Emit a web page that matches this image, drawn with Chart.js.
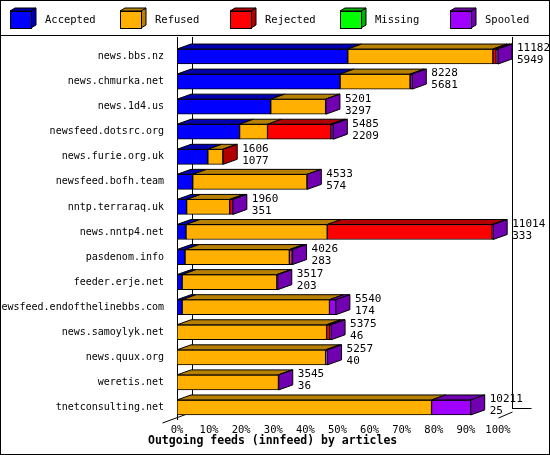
<!DOCTYPE html>
<html><head><meta charset="utf-8">
<script src="https://cdn.jsdelivr.net/npm/chart.js@4/dist/chart.umd.min.js"></script>
<style>html,body{margin:0;padding:0;background:#fff}#w{width:550px;height:455px;position:relative}</style>
</head><body><div id="w"><canvas id="c"></canvas></div>
<script>
const categories = ["news.bbs.nz","news.chmurka.net","news.1d4.us","newsfeed.dotsrc.org","news.furie.org.uk","newsfeed.bofh.team","nntp.terraraq.uk","news.nntp4.net","pasdenom.info","feeder.erje.net","newsfeed.endofthelinebbs.com","news.samoylyk.net","news.quux.org","weretis.net","tnetconsulting.net"];
const accepted = [53.2,50.8,29.2,19.5,9.6,4.9,3.0,2.8,2.5,1.6,1.6,0,0,0,0];
const refused  = [45.2,21.8,17.1,8.7,4.7,35.6,13.4,44.0,32.5,29.5,45.9,46.6,46.3,31.6,79.3];
const rejected = [1.0,0,0,19.7,0.1,0,0.9,51.4,0.6,0,0,1.0,0,0,0];
const missing  = [0,0,0,0,0,0,0,0,0,0,0,0,0,0,0];
const spooled  = [0.6,0.7,0.1,0.8,0,0.1,0.1,0.3,0.4,0.3,2.0,0.4,0.6,0.1,12.2];
const totalLabels = ["11182","8228","5201","5485","1606","4533","1960","11014","4026","3517","5540","5375","5257","3545","10211"];
const secondLabels = ["5949","5681","3297","2209","1077","574","351","333","283","203","174","46","40","36","25"];
const tickLabels = ["0%","10%","20%","30%","40%","50%","60%","70%","80%","90%","100%"];
const seriesNames = ["Accepted","Refused","Rejected","Missing","Spooled"];
const axisTitle = "Outgoing feeds (innfeed) by articles";
const front = ["#0000ff","#ffb000","#ff0000","#00ff00","#a000ff"];
const dark  = ["#0000b0","#b88000","#b00000","#00b000","#7000b0"];
const DX=14, DY=5, MONO="'DejaVu Sans Mono', monospace";

const plugin = {
  id:'fx',
  beforeDatasetsDraw(ch){
    const c=ch.ctx, a=ch.chartArea, xs=ch.scales.x;
    c.save(); c.strokeStyle='#000'; c.lineWidth=1;
    const x0=Math.round(a.left)+0.5, x1=Math.round(xs.getPixelForValue(100))+0.5;
    c.beginPath();
    c.moveTo(x0,37); c.lineTo(x0,a.bottom);
    c.moveTo(x0+DX+1,37); c.lineTo(x0+DX+1,a.bottom-8);
    c.moveTo(x1+DX,37); c.lineTo(x1+DX,a.bottom-11);
    c.moveTo(x0-DX-1,a.bottom+3); c.lineTo(x0+DX+1,a.bottom-8);
    c.moveTo(x1+DX,a.bottom-11.5); c.lineTo(x1+DX+19,a.bottom-11.5);
    c.moveTo(x1,a.bottom-2); c.lineTo(x1+DX,a.bottom-8);
    c.stroke(); c.restore();
  },
  afterDatasetsDraw(ch){
    const c=ch.ctx; c.save(); c.lineWidth=1; c.strokeStyle='#000';
    const n=categories.length;
    for(let i=0;i<n;i++){
      let last=-1;
      for(let d=0;d<5;d++){ if(ch.data.datasets[d].data[i]>0) last=d; }
      let endX=0, topY=0, botY=0;
      for(let d=0;d<5;d++){
        const v=ch.data.datasets[d].data[i]; if(!(v>0)) continue;
        const el=ch.getDatasetMeta(d).data[i];
        const l=Math.min(el.base,el.x), r=Math.max(el.base,el.x);
        const t=el.y-el.height/2, b=el.y+el.height/2;
        c.fillStyle=dark[d];
        c.beginPath(); c.moveTo(l,t); c.lineTo(l+DX,t-DY); c.lineTo(r+DX,t-DY); c.lineTo(r,t); c.closePath(); c.fill(); c.stroke();
        if(d===last){
          c.beginPath(); c.moveTo(r,t); c.lineTo(r+DX,t-DY); c.lineTo(r+DX,b-DY); c.lineTo(r,b); c.closePath(); c.fill(); c.stroke();
          endX=r; topY=t; botY=b;
        }
      }
      const cy=(topY+botY)/2;
      c.fillStyle='#000'; c.font="11px "+MONO; c.textAlign='left'; c.textBaseline='middle';
      c.fillText(totalLabels[i], endX+DX+5, cy-8);
      c.fillText(secondLabels[i], endX+DX+5, cy+4);
    }
    // legend
    c.font="10.5px "+MONO; c.textBaseline='middle';
    for(let d=0;d<5;d++){
      const x=10+d*110, y=11;
      c.fillStyle=dark[d];
      c.beginPath(); c.moveTo(x+21,y); c.lineTo(x+26,y-3); c.lineTo(x+26,y+14); c.lineTo(x+21,y+17); c.closePath(); c.fill(); c.stroke();
      c.beginPath(); c.moveTo(x,y); c.lineTo(x+5,y-3); c.lineTo(x+26,y-3); c.lineTo(x+21,y); c.closePath(); c.fill(); c.stroke();
      c.fillStyle=front[d]; c.fillRect(x,y,21,17); c.strokeRect(x+0.5,y+0.5,21,17);
      c.fillStyle='#000'; c.fillText(seriesNames[d], x+35, 20);
    }
    c.font="bold 11.5px "+MONO; c.fillText(axisTitle, 148, 441);
    c.beginPath(); c.moveTo(0,35.5); c.lineTo(550,35.5); c.stroke();
    c.strokeRect(0.5,0.5,549,454);
    c.restore();
  }
};

new Chart(document.getElementById('c'),{
  type:'bar',
  data:{labels:categories,datasets:[accepted,refused,rejected,missing,spooled].map((arr,d)=>({
    label:seriesNames[d],data:arr,backgroundColor:front[d],borderColor:'#000',borderWidth:1,borderSkipped:false,barThickness:15
  }))},
  options:{
    indexAxis:'y',responsive:true,maintainAspectRatio:false,animation:false,
    layout:{padding:{left:0,top:44,right:52,bottom:4}},
    plugins:{legend:{display:false},tooltip:{enabled:false}},
    scales:{
      x:{stacked:true,min:0,max:100,grid:{display:false,drawTicks:true,tickLength:3,tickColor:'#000'},border:{display:false},
        afterFit(s){s.height=31;},
        ticks:{stepSize:10,color:'#000',font:{family:MONO,size:10.5},padding:1,maxRotation:0,callback:(v,i)=>tickLabels[i]}},
      y:{stacked:true,grid:{display:false},border:{display:false},afterFit(s){s.width=177;},
        ticks:{color:'#000',font:{family:MONO,size:10},padding:5,autoSkip:false}}
    }
  },
  plugins:[plugin]
});
</script></body></html>
